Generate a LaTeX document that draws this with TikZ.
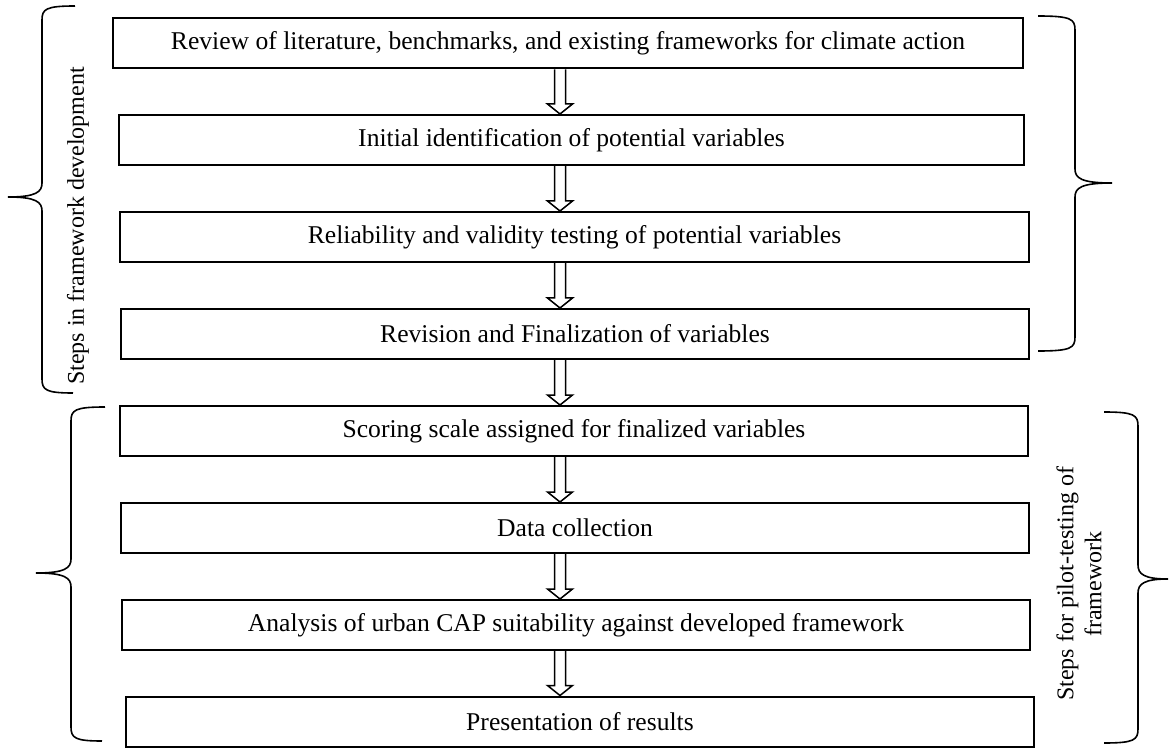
\documentclass[tikz,border=0pt]{standalone}
\usepackage{fontspec}
\setmainfont{Liberation Serif}
\usetikzlibrary{calc}
\tikzset{stepbox/.style={draw,line width=1pt,minimum height=25pt,inner sep=0pt,
    font=\fontsize{12.8}{15}\selectfont},
  sidelabel/.style={inner sep=0pt,font=\fontsize{12}{14}\selectfont},
  bracket/.style={line width=0.8pt},
  hollowarrow/.style={line width=0.75pt,line join=miter,
    to path={let \p1=(\tikztostart), \p2=(\tikztotarget) in
      (\x1-2.75pt,\y1) -- (\x1-2.75pt,\y2+5pt) -- (\x1-6.25pt,\y2+5pt)
      -- (\x1,\y2) -- (\x1+6.25pt,\y2+5pt) -- (\x1+2.75pt,\y2+5pt)
      -- (\x1+2.75pt,\y1)}}}

\begin{document}
\begin{tikzpicture}[x=0.5pt,y=-0.5pt]
  \useasboundingbox (0,0) rectangle (1169,749);
  % steps
  \node[stepbox,minimum width=455pt] (b1) at (568,43.5) {Review of literature, benchmarks, and existing frameworks for climate action};
  \node[stepbox,minimum width=452.5pt] (b2) at (571.5,140) {Initial identification of potential variables};
  \node[stepbox,minimum width=454.5pt] (b3) at (574.5,237) {Reliability and validity testing of potential variables};
  \node[stepbox,minimum width=454pt] (b4) at (575,334) {Revision and Finalization of variables};
  \node[stepbox,minimum width=454pt] (b5) at (574,431) {Scoring scale assigned for finalized variables};
  \node[stepbox,minimum width=454pt] (b6) at (575,528) {Data collection};
  \node[stepbox,minimum width=454pt] (b7) at (576,625) {Analysis of urban CAP suitability against developed framework};
  \node[stepbox,minimum width=454pt] (b8) at (580,721.5) {Presentation of results};
  % arrows
  \coordinate (ax) at (560,0);
  \foreach \a/\b in {b1/b2,b2/b3,b3/b4,b4/b5,b5/b6,b6/b7,b7/b8}
    \draw[hollowarrow] (\a.south -| ax) to (\b.north -| ax);
  % braces
  \draw[bracket] (75,6) .. controls (46,6) and (42,9) .. (42,20) -- (42,183)
    .. controls (42,192) and (36,197) .. (8,197) .. controls (36,197) and (42,202) .. (42,211)
    -- (42,379) .. controls (42,390) and (46,393) .. (73,393);
  \draw[bracket] (105,407) .. controls (75,407) and (71,410) .. (71,421) -- (71,559)
    .. controls (71,568) and (65,573) .. (36,573) .. controls (65,573) and (71,578) .. (71,587)
    -- (71,727) .. controls (71,738) and (75,741) .. (102,741);
  \draw[bracket] (1038,16) .. controls (1071,16) and (1075,19) .. (1075,30) -- (1075,169)
    .. controls (1075,178) and (1081,183) .. (1112,183) .. controls (1081,183) and (1075,188) .. (1075,197)
    -- (1075,337) .. controls (1075,348) and (1071,351) .. (1038,351);
  \draw[bracket] (1104,412) .. controls (1134,412) and (1138,415) .. (1138,426) -- (1138,565)
    .. controls (1138,574) and (1144,579) .. (1168,579) .. controls (1144,579) and (1138,584) .. (1138,593)
    -- (1138,729) .. controls (1138,740) and (1134,743) .. (1104,743);
  % side labels
  \node[sidelabel,rotate=90] (devlabel) at (78,226) {Steps in framework development};
  \node[sidelabel,rotate=90,align=center] (pilotlabel) at (1079,584) {Steps for pilot-testing of\\framework};
\end{tikzpicture}
\end{document}
